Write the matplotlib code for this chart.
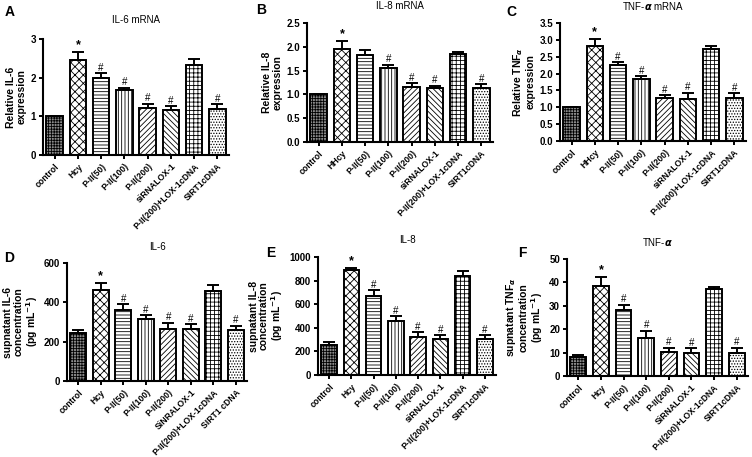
import numpy as np
import matplotlib
matplotlib.use('Agg')
import matplotlib.pyplot as plt

plt.rcParams['font.family'] = ['Liberation Sans', 'DejaVu Sans']
plt.rcParams['font.weight'] = 'bold'
plt.rcParams['hatch.linewidth'] = 0.6

# x labels for each panel
labels_a = ['control', 'Hcy', 'P-II(50)', 'P-II(100)', 'P-II(200)',
            'siRNALOX-1', 'P-II(200)+LOX-1cDNA', 'SIRT1cDNA']
labels_b = ['control', 'HHcy', 'P-II(50)', 'P-II(100)', 'P-II(200)',
            'siRNALOX-1', 'P-II(200)+LOX-1cDNA', 'SIRT1cDNA']
labels_c = labels_b
labels_d = ['control', 'Hcy', 'P-II(50)', 'P-II(100)', 'P-II(200)',
            'SiNRALOX-1', 'P-II(200)+LOX-1cDNA', 'SIRT1 cDNA']
labels_e = labels_a
labels_f = ['control', 'Hcy', 'P-II(50)', 'P-II(100)', 'P-II(200)',
            'SiRNALOX-1', 'P-II(200)+LOX-1cDNA', 'SIRT1cDNA']

# means and upper errors
il6_mrna = [1.0, 2.46, 2.0, 1.67, 1.22, 1.16, 2.33, 1.18]
il6_mrna_err = [0.0, 0.21, 0.11, 0.07, 0.11, 0.10, 0.16, 0.13]
il8_mrna = [1.0, 1.95, 1.83, 1.56, 1.15, 1.13, 1.85, 1.14]
il8_mrna_err = [0.0, 0.17, 0.11, 0.06, 0.08, 0.05, 0.05, 0.07]
tnf_mrna = [1.0, 2.81, 2.25, 1.83, 1.29, 1.24, 2.74, 1.29]
tnf_mrna_err = [0.0, 0.22, 0.09, 0.09, 0.07, 0.19, 0.09, 0.12]
il6_conc = [246, 464, 360, 314, 266, 263, 459, 259]
il6_conc_err = [12, 33, 30, 20, 29, 25, 31, 21]
il8_conc = [258, 886, 672, 460, 319, 301, 843, 303]
il8_conc_err = [20, 23, 47, 38, 44, 36, 42, 34]
tnf_conc = [8.0, 38.3, 28.3, 16.4, 10.2, 10.0, 37.3, 10.0]
tnf_conc_err = [0.9, 4.2, 2.1, 3.0, 1.9, 1.9, 0.8, 2.0]

# significance marks
marks_a = ['', '*', '#', '#', '#', '#', '', '#']
marks_b = ['', '*', '', '#', '#', '#', '', '#']

hatches = ['++++++', 'xxxx', '-----', '|||||', '//////', '\\\\\\\\\\\\', '++++', '......']
faces = ['#8c8c8c', 'white', 'white', 'white', 'white', 'white', 'white', 'white']

W, H = 752, 457
fig = plt.figure(figsize=(W / 100, H / 100), dpi=100)


def panel(box, labels, vals, errs, marks, ymax, step, ylabel, title,
          letter, title_y, letter_xy, fmt='{:.0f}'):
    # box = (left, top, right, bottom) in pixels
    l, t, r, b = box
    ax = fig.add_axes([l / W, 1 - b / H, (r - l) / W, (b - t) / H])
    x = np.arange(len(vals))
    for i in x:
        ax.bar(i, vals[i], width=0.7, color=faces[i], edgecolor='black',
               hatch=hatches[i], linewidth=1.4, zorder=2)
    ax.errorbar(x, vals, yerr=[np.zeros(len(errs)), errs], fmt='none',
                ecolor='black', elinewidth=1.4, capsize=4.5, capthick=1.4,
                zorder=3)
    for i in x:
        if marks[i]:
            ax.text(i, vals[i] + errs[i] + ymax * 0.005, marks[i],
                    ha='center', va='bottom', fontsize=7 if marks[i] == '#' else 9,
                    fontweight='normal' if marks[i] == '#' else 'bold')
    ax.set_xlim(-0.5, len(vals) - 0.5)
    ax.set_ylim(0, ymax)
    ticks = np.arange(0, ymax + step / 2, step)
    ax.set_yticks(ticks)
    ax.set_yticklabels([fmt.format(v) for v in ticks], fontsize=7,
                       fontweight='bold')
    ax.set_xticks(x)
    ax.set_xticklabels(labels, rotation=45, ha='right',
                       rotation_mode='anchor', fontsize=6.2,
                       fontweight='bold')
    for s in ['top', 'right']:
        ax.spines[s].set_visible(False)
    for s in ['left', 'bottom']:
        ax.spines[s].set_linewidth(1.5)
    ax.tick_params(width=1.4, length=3, pad=2)
    ax.set_ylabel(ylabel, fontsize=7.5, fontweight='bold', linespacing=1.05,
                  labelpad=3)
    fig.text((l + r) / 2 / W, 1 - title_y / H, title, ha='center',
             va='center', fontsize=7, fontweight='normal')
    fig.text(letter_xy[0] / W, 1 - letter_xy[1] / H, letter, ha='left',
             va='center', fontsize=10, fontweight='bold')
    return ax


panel((43, 39, 229, 155), labels_a, il6_mrna, il6_mrna_err, marks_a,
      3, 1, 'Relative IL-6\nexpression', 'IL-6 mRNA', 'A', 20, (5, 12))
panel((307, 23, 493, 142), labels_b, il8_mrna, il8_mrna_err, marks_b,
      2.5, 0.5, 'Relative IL-8\nexpression', 'IL-8 mRNA', 'B', 6, (256, 10),
      fmt='{:.1f}')
panel((560, 23, 746, 141), labels_c, tnf_mrna, tnf_mrna_err, marks_a,
      3.5, 0.5, 'Relative TNF$_{\\alpha}$\nexpression', 'TNF-$\\alpha$ mRNA',
      'C', 6, (506, 12), fmt='{:.1f}')
panel((67, 263, 247, 381), labels_d, il6_conc, il6_conc_err, marks_a,
      600, 200, 'supnatant IL-6\nconcentration\n(pg mL$^{-1}$)', 'IL-6',
      'D', 247, (4, 258))
panel((318, 257, 496, 375), labels_e, il8_conc, il8_conc_err, marks_a,
      1000, 200, 'supnatant IL-8\nconcentration\n(pg mL$^{-1}$)', 'IL-8',
      'E', 240, (266, 253))
panel((567, 259, 748, 376), labels_f, tnf_conc, tnf_conc_err, marks_a,
      50, 10, 'supnatant TNF$_{\\alpha}$\nconcentration\n(pg mL$^{-1}$)',
      'TNF-$\\alpha$', 'F', 242, (518, 253))

fig.savefig('out.png', dpi=100)
